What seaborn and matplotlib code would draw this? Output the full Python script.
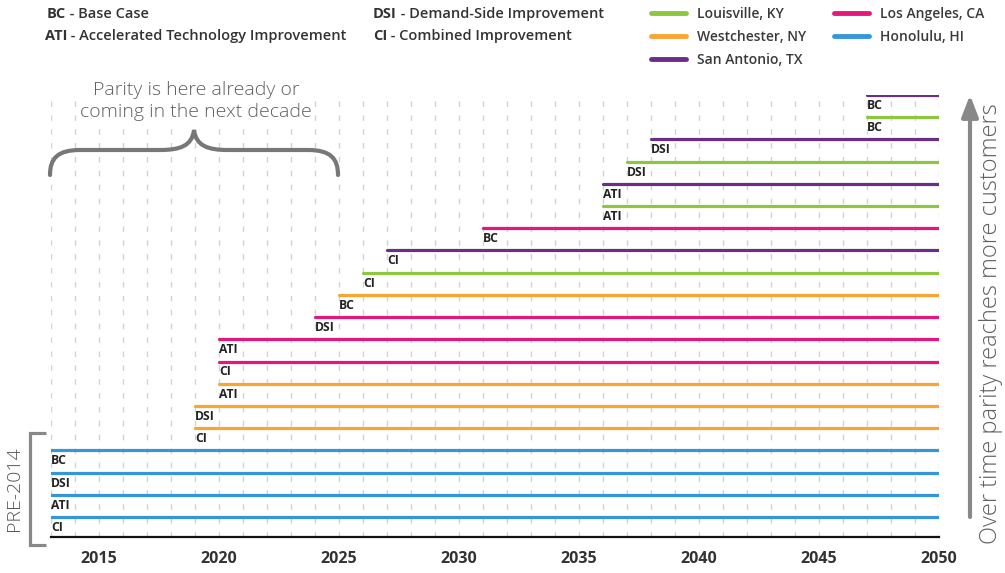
import numpy as np
import pandas as pd
import matplotlib
matplotlib.use("Agg")
import matplotlib.pyplot as plt
import seaborn as sns
from matplotlib.path import Path
from matplotlib.patches import PathPatch, FancyArrowPatch

# ---------------- data ----------------
cities = ["Louisville, KY", "Westchester, NY", "San Antonio, TX", "Los Angeles, CA", "Honolulu, HI"]
city_colors = ["#8dc63f", "#f8a532", "#6b2d86", "#e6177b", "#3498d8"]

# rows listed from bottom to top
row_city = ["Honolulu, HI", "Honolulu, HI", "Honolulu, HI", "Honolulu, HI",
            "Westchester, NY", "Westchester, NY", "Westchester, NY",
            "Los Angeles, CA", "Los Angeles, CA", "Los Angeles, CA",
            "Westchester, NY", "Louisville, KY", "San Antonio, TX", "Los Angeles, CA",
            "Louisville, KY", "San Antonio, TX", "Louisville, KY", "San Antonio, TX",
            "Louisville, KY", "San Antonio, TX"]
row_case = ["CI", "ATI", "DSI", "BC",
            "CI", "DSI", "ATI",
            "CI", "ATI", "DSI",
            "BC", "CI", "CI", "BC",
            "ATI", "ATI", "DSI", "DSI",
            "BC", "BC"]
row_start = [2013, 2013, 2013, 2013,
             2019, 2019, 2020,
             2020, 2020, 2024,
             2025, 2026, 2027, 2031,
             2036, 2036, 2037, 2038,
             2047, 2047]
end_year = 2050
x_min = 2013
major_ticks = [2015, 2020, 2025, 2030, 2035, 2040, 2045, 2050]

case_legend = [("BC", " - Base Case"), ("ATI", " - Accelerated Technology Improvement"),
               ("DSI", " - Demand-Side Improvement"), ("CI", " - Combined Improvement")]

# ---------------- style ----------------
sns.set_theme(style="white")
plt.rcParams["font.family"] = ["Open Sans", "DejaVu Sans"]

W, H = 1005, 573
fig = plt.figure(figsize=(W / 100, H / 100), dpi=100)

def fx(x):
    return x / W

def fy(y):
    return 1 - y / H

ax = fig.add_axes([fx(51), fy(537), fx(939) - fx(51), fy(95) - fy(537)])

recs = []
for i, (c, s) in enumerate(zip(row_city, row_start)):
    recs.append({"row": i, "year": s, "city": c})
    recs.append({"row": i, "year": end_year, "city": c})
df = pd.DataFrame(recs)

sns.lineplot(data=df, x="year", y="row", hue="city", units="row", estimator=None,
             sort=False, hue_order=cities, palette=city_colors, linewidth=2.3,
             ax=ax, zorder=3)

ax.set_xlim(x_min, end_year)
ax.set_ylim(-0.9, len(row_city) - 1)
ax.set_xlabel("")
ax.set_ylabel("")
ax.set_yticks([])
ax.set_xticks(major_ticks)
ax.set_xticks(np.arange(x_min, end_year + 1), minor=True)
ax.tick_params(axis="x", which="major", direction="out", length=6, width=1.5,
               color="#111111", pad=4, labelsize=11.5, labelcolor="#333333")
ax.tick_params(axis="x", which="minor", length=0)
for lab in ax.get_xticklabels():
    lab.set_fontweight("bold")
ax.xaxis.grid(True, which="both", linestyle=(0, (4, 6)), color="#d2d2d2", linewidth=1)
ax.set_axisbelow(True)
for sp in ["top", "right", "left"]:
    ax.spines[sp].set_visible(False)
ax.spines["bottom"].set_color("#111111")
ax.spines["bottom"].set_linewidth(1.6)

# row labels
for i, (case, s) in enumerate(zip(row_case, row_start)):
    ax.text(s, i - 0.47, case, fontsize=8.7, fontweight="bold", color="#222222",
            ha="left", va="center", zorder=4)

# city legend
sns.move_legend(ax, loc="upper left", bbox_to_anchor=(fx(651), fy(7)),
                bbox_transform=fig.transFigure, ncol=2, frameon=False, title=None,
                fontsize=10, handlelength=2.5, handletextpad=0.8,
                columnspacing=2.0, labelspacing=0.65, borderpad=0, borderaxespad=0)
leg = ax.get_legend()
for ln in leg.get_lines():
    ln.set_linewidth(3.5)
for t in leg.get_texts():
    t.set_color("#3a3a3a")
    t.set_fontweight("semibold")

# case abbreviation legend
pos = [(47, 14), (45, 36), (373, 14), (373, 36)]
for (b, rest), (x, y) in zip(case_legend, pos):
    t = fig.text(fx(x), fy(y), b, fontsize=10.5, fontweight="bold", color="#333333",
                 ha="left", va="center")
    ax.annotate(rest, xy=(1, 0.5), xycoords=t, fontsize=10.5, fontweight="semibold",
                color="#333333", ha="left", va="center", annotation_clip=False)

# annotation text and brace
fig.text(fx(196), fy(101), "Parity is here already or\ncoming in the next decade",
         fontsize=14, fontweight="light", color="#606060", ha="center", va="center",
         linespacing=1.3, bbox=dict(facecolor="white", edgecolor="none", pad=0.5))

verts = [(50, 175), (50, 158), (58, 150), (80, 150), (160, 150),
         (180, 150), (192, 146), (194, 130),
         (196, 146), (208, 150), (228, 150),
         (308, 150), (330, 150), (338, 158), (338, 175)]
codes = [Path.MOVETO, Path.CURVE4, Path.CURVE4, Path.CURVE4, Path.LINETO,
         Path.CURVE4, Path.CURVE4, Path.CURVE4,
         Path.CURVE4, Path.CURVE4, Path.CURVE4,
         Path.LINETO, Path.CURVE4, Path.CURVE4, Path.CURVE4]
brace = PathPatch(Path([(fx(x), fy(y)) for x, y in verts], codes), transform=fig.transFigure,
                  facecolor="none", edgecolor="#777777", linewidth=3, capstyle="round")
fig.patches.append(brace)

# left bracket
bv = [(46, 433), (30, 433), (30, 545), (46, 545)]
bracket = PathPatch(Path([(fx(x), fy(y)) for x, y in bv]), transform=fig.transFigure,
                    facecolor="none", edgecolor="#888888", linewidth=2.3)
fig.patches.append(bracket)
fig.text(fx(14), fy(489), "PRE-2014", rotation=90, fontsize=14, fontweight="light",
         color="#555555", ha="center", va="center")

# right arrow and text
arrow = FancyArrowPatch((fx(970), fy(517)), (fx(970), fy(95)), transform=fig.transFigure,
                        arrowstyle="-|>,head_length=13,head_width=5", mutation_scale=1,
                        color="#888888", linewidth=3, shrinkA=0, shrinkB=0)
fig.patches.append(arrow)
fig.text(fx(991), fy(324), "Over time parity reaches more customers", rotation=90,
         fontsize=17, fontweight="light", color="#606060", ha="center", va="center")

fig.savefig("out.png", dpi=100)
